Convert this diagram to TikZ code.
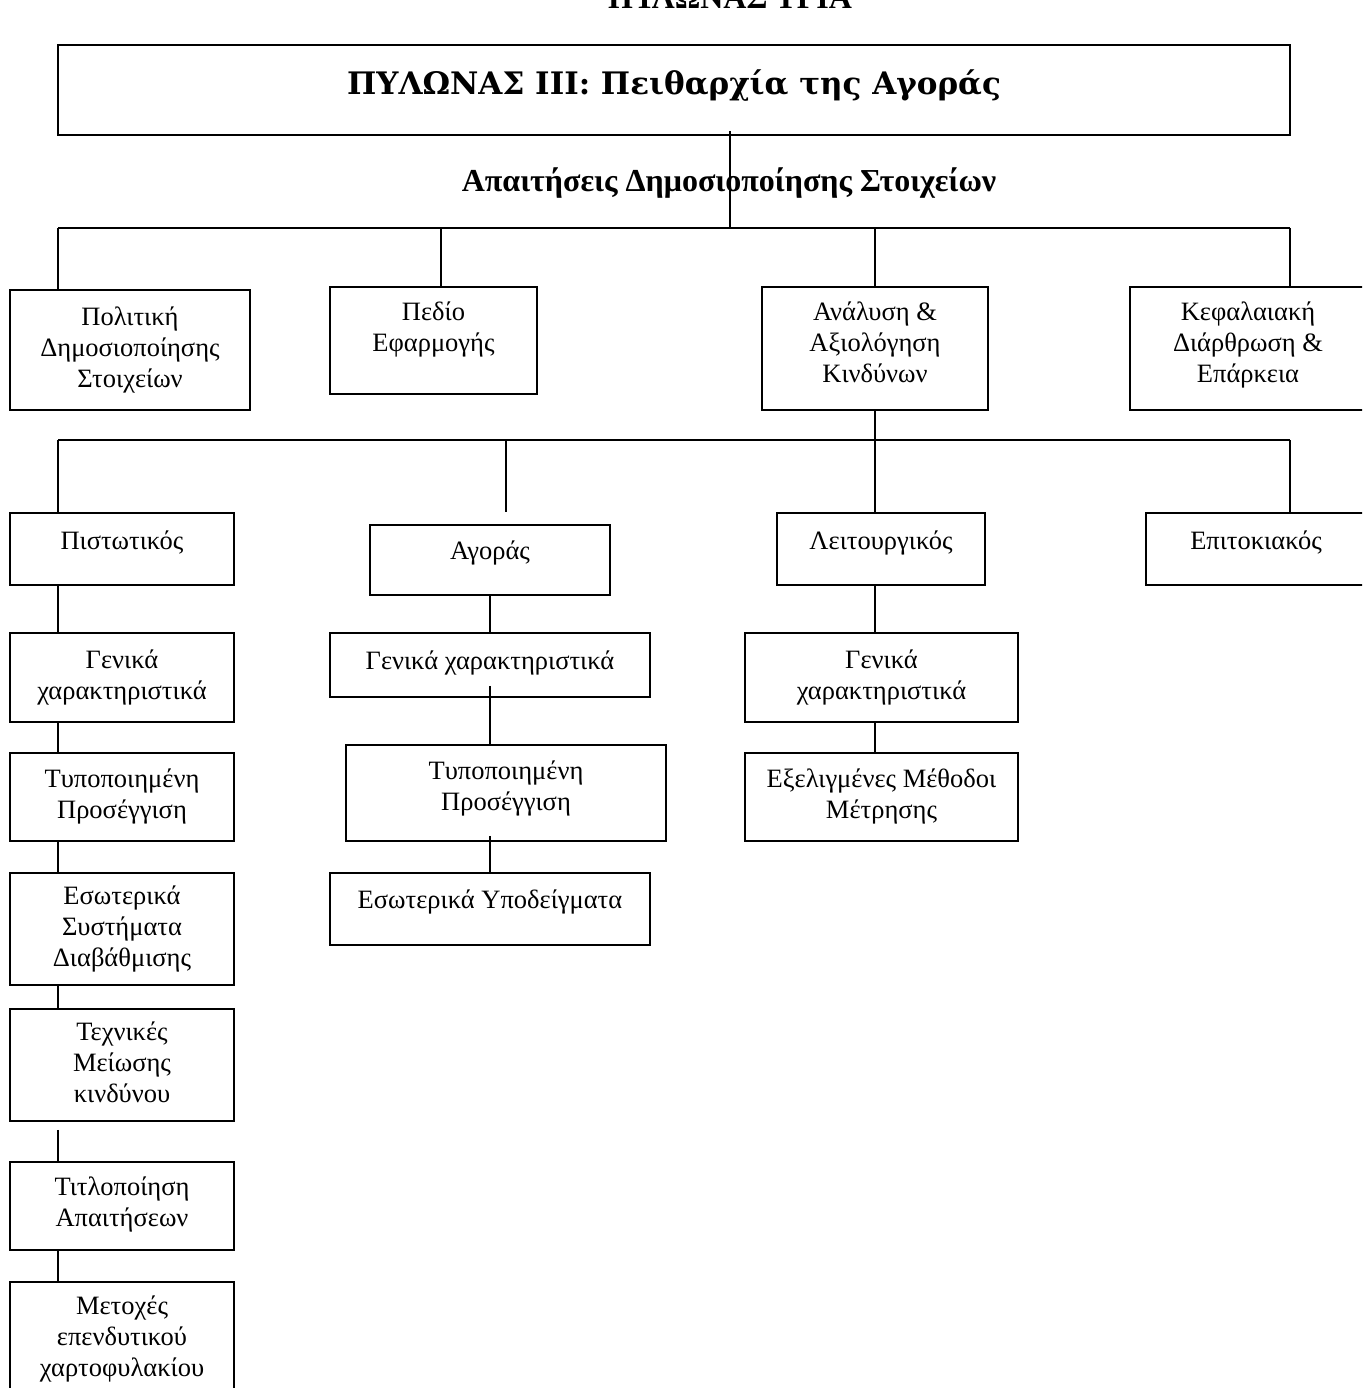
\documentclass[tikz,border=0pt]{standalone}
\usepackage{fontspec}
\setmainfont{Liberation Serif}
\newfontfamily\slabfont{DejaVu Serif}
\newcommand\lines[2][0pt]{\raisebox{#1}[\height][\depth]{\begin{tabular}{@{}c@{}}#2\end{tabular}}}
\begin{document}
\begin{tikzpicture}[x=1pt,y=-1pt,
  box/.style={draw,line width=1.8pt,inner sep=0pt,font=\fontsize{26.5}{31}\selectfont},
  wire/.style={line width=1.8pt}]
\useasboundingbox (0,0) rectangle (1362,1388);
\clip (0,0) rectangle (1362,1388);
\fill[white] (0,0) rectangle (1362,1388);
% headings
\node[font=\fontsize{32}{36}\selectfont\bfseries,anchor=base,inner sep=0pt] (top) at (730,9) {ΠΥΛΩΝΑΣ ΤΡΙΑ};
\node[draw,line width=1.8pt,minimum width=1232pt,minimum height=90pt,inner sep=0pt,
  font=\slabfont\bfseries\fontsize{31}{36}\selectfont] (title) at (674,90)
  {\raisebox{4pt}[\height][\depth]{ΠΥΛΩΝΑΣ ΙΙΙ: Πειθαρχία της Αγοράς}};
\node[font=\fontsize{32}{36}\selectfont\bfseries,inner sep=0pt] (sub) at (729,183) {Απαιτήσεις Δημοσιοποίησης Στοιχείων};
% level 1
\node[box,minimum width=240pt,minimum height=120pt] (pol) at (130,350) {\lines{Πολιτική\\Δημοσιοποίησης\\Στοιχείων}};
\node[box,minimum width=207pt,minimum height=107pt] (ped) at (433.5,340.5) {\lines[11pt]{Πεδίο\\Εφαρμογής}};
\node[box,minimum width=226pt,minimum height=123pt] (ana) at (875,348.5) {\lines[3pt]{Ανάλυση \&\\Αξιολόγηση\\Κινδύνων}};
\node[box,minimum width=236pt,minimum height=123pt] (kef) at (1248,348.5) {\lines[3pt]{Κεφαλαιακή\\Διάρθρωση \&\\Επάρκεια}};
% level 2
\node[box,minimum width=224pt,minimum height=72pt] (pis) at (122,549) {\lines[6pt]{Πιστωτικός}};
\node[box,minimum width=240pt,minimum height=70pt] (ago) at (490,560) {\lines[7pt]{Αγοράς}};
\node[box,minimum width=208pt,minimum height=72pt] (lei) at (881,549) {\lines[6pt]{Λειτουργικός}};
\node[box,minimum width=220pt,minimum height=72pt] (epi) at (1256,549) {\lines[6pt]{Επιτοκιακός}};
% credit chain
\node[box,minimum width=224pt,minimum height=89pt] (c1) at (122,677.5) {\lines{Γενικά\\χαρακτηριστικά}};
\node[box,minimum width=224pt,minimum height=88pt] (c2) at (122,797) {\lines{Τυποποιημένη\\Προσέγγιση}};
\node[box,minimum width=224pt,minimum height=112pt] (c3) at (122,929) {\lines{Εσωτερικά\\Συστήματα\\Διαβάθμισης}};
\node[box,minimum width=224pt,minimum height=112pt] (c4) at (122,1065) {\lines{Τεχνικές\\Μείωσης\\κινδύνου}};
\node[box,minimum width=224pt,minimum height=88pt] (c5) at (122,1206) {\lines[1pt]{Τιτλοποίηση\\Απαιτήσεων}};
\node[box,minimum width=224pt,minimum height=115pt] (c6) at (122,1339.5) {\lines{Μετοχές\\επενδυτικού\\χαρτοφυλακίου}};
% market chain
\node[box,minimum width=320pt,minimum height=64pt] (m1) at (490,665) {\lines[2pt]{Γενικά χαρακτηριστικά}};
\node[box,minimum width=320pt,minimum height=96pt] (m2) at (506,793) {\lines[4.5pt]{Τυποποιημένη\\Προσέγγιση}};
\node[box,minimum width=320pt,minimum height=72pt] (m3) at (490,909) {\lines[7pt]{Εσωτερικά Υποδείγματα}};
% operational chain
\node[box,minimum width=273pt,minimum height=89pt] (o1) at (881.5,677.5) {\lines{Γενικά\\χαρακτηριστικά}};
\node[box,minimum width=273pt,minimum height=88pt] (o2) at (881.5,797) {\lines{Εξελιγμένες Μέθοδοι\\Μέτρησης}};
% connectors
\coordinate (h1a) at (58,228);
\coordinate (h1b) at (1290,228);
\coordinate (h1p) at (441,228);
\coordinate (h1n) at (875,228);
\coordinate (h1t) at (730,228);
\draw[wire] ([yshift=5pt]title.south -| h1t) -- (h1t);
\draw[wire] (h1a) -- (h1b);
\draw[wire] (h1a) -- (h1a |- pol.north);
\draw[wire] (h1p) -- (h1p |- ped.north);
\draw[wire] (h1n) -- (ana.north);
\draw[wire] (h1b) -- (h1b |- kef.north);
\coordinate (h2a) at (58,440);
\coordinate (h2b) at (1290,440);
\coordinate (h2m) at (506,440);
\coordinate (agoTop) at (506,512);
\draw[wire] (ana.south) -- (ana.south |- h2a);
\draw[wire] (h2a) -- (h2b);
\draw[wire] (h2a) -- (h2a |- pis.north);
\draw[wire] (h2m) -- (agoTop);
\draw[wire] (h1n |- h2a) -- (h1n |- lei.north);
\draw[wire] (h2b) -- (h2b |- epi.north);
% credit links
\draw[wire] (h2a |- pis.south) -- (h2a |- c1.north);
\draw[wire] (h2a |- c1.south) -- (h2a |- c2.north);
\draw[wire] (h2a |- c2.south) -- (h2a |- c3.north);
\draw[wire] (h2a |- c3.south) -- (h2a |- c4.north);
\draw[wire] ([yshift=-8pt]c4.south -| h2a) -- (h2a |- c5.north);
\draw[wire] (h2a |- c5.south) -- (h2a |- c6.north);
% market links
\draw[wire] (ago.south) -- (m1.north);
\draw[wire] ([yshift=12pt]m1.south) -- (m2.north -| m1.south);
\draw[wire] ([yshift=6pt]m2.south -| m1.south) -- (m3.north);
% operational links
\draw[wire] (h1n |- lei.south) -- (h1n |- o1.north);
\draw[wire] (h1n |- o1.south) -- (h1n |- o2.north);
\end{tikzpicture}
\end{document}
